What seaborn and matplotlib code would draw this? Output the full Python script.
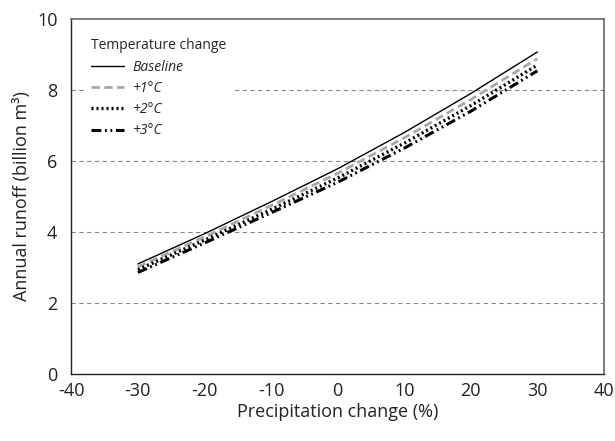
import matplotlib
matplotlib.use("Agg")
import matplotlib.pyplot as plt
import seaborn as sns
import pandas as pd

# Precipitation change scenarios (%)
precip_change = [-30, -20, -10, 0, 10, 20, 30]

# Annual runoff (billion m3) for each temperature scenario
runoff_baseline = [3.10, 3.95, 4.85, 5.78, 6.80, 7.90, 9.07]
runoff_plus1 = [3.02, 3.86, 4.74, 5.65, 6.65, 7.73, 8.88]
runoff_plus2 = [2.94, 3.77, 4.63, 5.52, 6.50, 7.56, 8.70]
runoff_plus3 = [2.86, 3.69, 4.54, 5.40, 6.36, 7.40, 8.54]

series_labels = ["Baseline", "+1°C", "+2°C", "+3°C"]
xtick_values = [-40, -30, -20, -10, 0, 10, 20, 30, 40]
ytick_values = [0, 2, 4, 6, 8, 10]

sns.set_theme(style="white")
plt.rcParams["font.family"] = ["Open Sans", "DejaVu Sans"]

fig = plt.figure(figsize=(6.15, 4.41), dpi=100)
ax = fig.add_axes([0.116, 0.152, 0.866, 0.805])

styles = [
    dict(color="black", linestyle="-", linewidth=1.0),
    dict(color="#a8a8a8", linestyle=(0, (3.0, 1.6)), linewidth=2.0),
    dict(color="black", linestyle=(0, (0.6, 0.9)), linewidth=2.4),
    dict(color="black", linestyle=(0, (3.2, 1.2, 0.6, 1.2, 0.6, 1.2)), linewidth=2.2),
]
all_values = [runoff_baseline, runoff_plus1, runoff_plus2, runoff_plus3]

for label, values, st in zip(series_labels, all_values, styles):
    df = pd.DataFrame({"precip": precip_change, "runoff": values})
    sns.lineplot(data=df, x="precip", y="runoff", ax=ax, label=label, **st)

ax.set_xlim(-40, 40)
ax.set_ylim(0, 10)
ax.set_xticks(xtick_values)
ax.set_yticks(ytick_values)
ax.set_xticklabels([str(v) for v in xtick_values])
ax.set_yticklabels([str(v) for v in ytick_values])

# Horizontal dashed reference lines
for yv in [2, 4, 6, 8]:
    ax.axhline(yv, color="#888888", linestyle=(0, (4, 3)), linewidth=0.8, zorder=0)

ax.tick_params(axis="both", direction="in", length=7, width=1.0, color="#333333",
               labelsize=13, labelcolor="#222222")
ax.tick_params(axis="x", pad=6, top=False)
ax.tick_params(axis="y", pad=10, right=False)

for side in ["left", "bottom"]:
    ax.spines[side].set_color("#222222")
    ax.spines[side].set_linewidth(1.0)
for side in ["top", "right"]:
    ax.spines[side].set_color("#666666")
    ax.spines[side].set_linewidth(1.2)

ax.set_xlabel("Precipitation change (%)", fontsize=13, color="#222222", labelpad=2)
ax.set_ylabel("Annual runoff (billion m³)", fontsize=13, color="#222222", labelpad=4)

leg = ax.legend(title="Temperature change", loc="upper left", frameon=True,
                edgecolor="white", facecolor="white", framealpha=1.0,
                fontsize=10, title_fontsize=10, handlelength=2.4,
                handletextpad=0.6, labelspacing=0.45, borderpad=0.5,
                borderaxespad=0.9)
leg._legend_box.align = "left"
for txt in leg.get_texts():
    txt.set_fontstyle("italic")
leg.set_zorder(5)

fig.savefig("out.png", dpi=100)
